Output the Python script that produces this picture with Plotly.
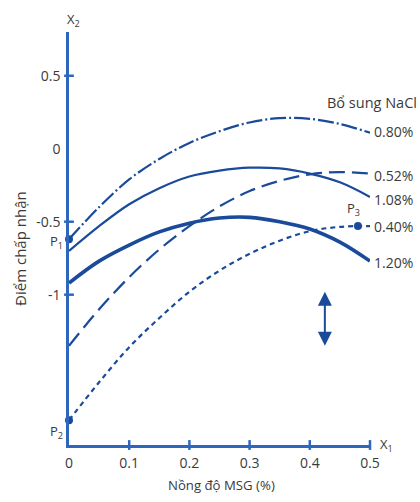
import plotly.graph_objects as go

# Data
x_msg = [0.0, 0.05, 0.10, 0.15, 0.20, 0.25, 0.30, 0.35, 0.40, 0.45, 0.50]
y_080 = [-0.62, -0.40, -0.21, -0.07, 0.04, 0.12, 0.18, 0.21, 0.205, 0.17, 0.11]
y_052 = [-1.35, -1.10, -0.88, -0.69, -0.53, -0.395, -0.29, -0.22, -0.175, -0.16, -0.17]
y_108 = [-0.70, -0.53, -0.38, -0.27, -0.19, -0.15, -0.13, -0.135, -0.17, -0.23, -0.33]
y_040 = [-1.86, -1.60, -1.36, -1.16, -0.98, -0.835, -0.72, -0.63, -0.565, -0.535, -0.53]
y_120 = [-0.92, -0.77, -0.66, -0.57, -0.51, -0.475, -0.47, -0.50, -0.55, -0.64, -0.77]

series_labels = ["0.80%", "0.52%", "1.08%", "0.40%", "1.20%"]
label_y = [0.115, -0.18, -0.35, -0.53, -0.78]

points_x = [0.0, 0.0, 0.48]
points_y = [-0.62, -1.86, -0.53]
points_names = ["P<sub>1</sub>", "P<sub>2</sub>", "P<sub>3</sub>"]

x_ticks = [0, 0.1, 0.2, 0.3, 0.4, 0.5]
x_tick_marks = [0.1, 0.2, 0.3, 0.4, 0.5]
y_ticks = [0.5, 0, -0.5, -1]
y_tick_marks = [0.5, -0.5, -1]

Y_MIN, Y_MAX = -2.03, 0.80

CURVE = "#1a4a9a"
AXIS = "#2e66bd"
TEXT = "#3a3a3a"
FONT = "'Open Sans', sans-serif"

fig = go.Figure()

styles = [
    (y_080, "16px,3px,2px,3px", 2.2),
    (y_052, "16px,7px", 2.2),
    (y_108, "solid", 2.2),
    (y_040, "5px,4px", 2.2),
    (y_120, "solid", 3.6),
]
for ys, dash, w in styles:
    fig.add_trace(go.Scatter(x=x_msg, y=ys, mode="lines",
                             line=dict(color=CURVE, width=w, dash=dash, shape="spline", smoothing=1.0),
                             hoverinfo="skip", showlegend=False))

# tick marks crossing the axes
fig.add_trace(go.Scatter(x=x_tick_marks, y=[Y_MIN] * len(x_tick_marks), mode="markers",
                         marker=dict(symbol="line-ns", size=7, line=dict(color=AXIS, width=2.5)),
                         cliponaxis=False, hoverinfo="skip", showlegend=False))
fig.add_trace(go.Scatter(x=[0] * len(y_tick_marks), y=y_tick_marks, mode="markers",
                         marker=dict(symbol="line-ew", size=7, line=dict(color=AXIS, width=2.5)),
                         cliponaxis=False, hoverinfo="skip", showlegend=False))

# P points
fig.add_trace(go.Scatter(x=points_x, y=points_y, mode="markers",
                         marker=dict(color=CURVE, size=8),
                         cliponaxis=False, hoverinfo="skip", showlegend=False))

ann = []
for lab, ly in zip(series_labels, label_y):
    ann.append(dict(x=0.5, y=ly, xref="x", yref="y", text=lab, showarrow=False,
                    xanchor="left", xshift=2, font=dict(size=14, color=TEXT, family=FONT)))
ann.append(dict(x=1.162, y=0.830, xref="paper", yref="paper", text="Bổ sung NaCl", showarrow=False,
                xanchor="right", yanchor="middle", font=dict(size=14.5, color=TEXT, family=FONT)))
# P labels
ann.append(dict(x=0, y=-0.64, xref="x", yref="y", text=points_names[0], showarrow=False,
                xanchor="right", xshift=-4, font=dict(size=13, color=TEXT, family=FONT)))
ann.append(dict(x=0, y=-1.94, xref="x", yref="y", text=points_names[1], showarrow=False,
                xanchor="right", xshift=-4, font=dict(size=13, color=TEXT, family=FONT)))
ann.append(dict(x=0.48, y=-0.41, xref="x", yref="y", text=points_names[2], showarrow=False,
                xanchor="center", xshift=-4, font=dict(size=13, color=TEXT, family=FONT)))
# axis name labels
ann.append(dict(x=0, y=1.029, xref="paper", yref="paper", text="X<sub>2</sub>", showarrow=False,
                xanchor="center", yanchor="middle", xshift=4, font=dict(size=13, color=TEXT, family=FONT)))
ann.append(dict(x=0.5, y=Y_MIN, xref="x", yref="y", text="X<sub>1</sub>", showarrow=False,
                xanchor="left", xshift=8, yshift=0, font=dict(size=13, color=TEXT, family=FONT)))
# axis titles
ann.append(dict(x=-0.163, y=0.477, xref="paper", yref="paper", text="Điểm chấp nhận",
                xanchor="center", yanchor="middle",
                showarrow=False, textangle=-90, font=dict(size=15, color=TEXT, family=FONT)))
ann.append(dict(x=0.508, y=-0.097, xref="paper", yref="paper", text="Nồng độ MSG (%)",
                xanchor="center", yanchor="middle",
                showarrow=False, font=dict(size=13.2, color=TEXT, family=FONT)))
# double arrow
ann.append(dict(x=0.425, y=-0.98, ax=0.425, ay=-1.36, xref="x", yref="y", axref="x", ayref="y",
                text="", showarrow=True, arrowhead=2, startarrowhead=2, arrowside="end+start",
                arrowsize=1.4, startarrowsize=1.4, arrowwidth=2, arrowcolor=CURVE))

fig.update_layout(
    width=420, height=502,
    margin=dict(l=69, r=50, t=32, b=57),
    plot_bgcolor="white", paper_bgcolor="white",
    font=dict(family=FONT, color=TEXT, size=12),
    annotations=ann,
)
fig.update_xaxes(range=[0, 0.5], showgrid=False, zeroline=False, showline=True,
                 linecolor=AXIS, linewidth=2.5, tickvals=x_ticks, ticktext=[str(v) for v in x_ticks],
                 ticks="", ticklabelstandoff=3, tickfont=dict(size=14, color=TEXT))
fig.update_yaxes(range=[Y_MIN, Y_MAX], showgrid=False, zeroline=False, showline=True,
                 linecolor=AXIS, linewidth=2.5, tickvals=y_ticks, ticktext=["0.5", "0", "-0.5", "-1"],
                 ticks="", ticklabelstandoff=3, tickfont=dict(size=14, color=TEXT))

fig.write_html("out.html", config={"displayModeBar": False},
               post_script="document.body.style.margin='0';")
